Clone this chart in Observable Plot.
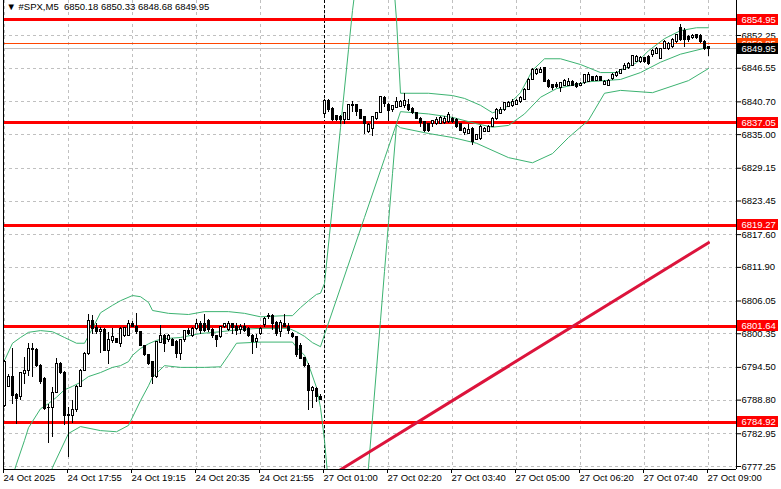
<!DOCTYPE html>
<html><head><meta charset="utf-8">
<script src="https://cdn.jsdelivr.net/npm/d3@7"></script>
<script src="https://cdn.jsdelivr.net/npm/@observablehq/plot@0.6"></script>
<style>
body{margin:0;background:#fff;}
svg text{font-family:"Liberation Sans",Arial,sans-serif;}
</style></head><body><div id="chart"></div>
<script>
// ---- OHLC candles (M5 bars, index 0..176) ----
const opens = [6787.7,6791.1,6792.9,6789.7,6789.3,6793.3,6793.9,6797.7,6797.5,6794.8,6792.5,6787.5,6787.4,6790.0,6795.1,6793.6,6786.2,6786.1,6787.0,6791.1,6793.9,6796.8,6802.6,6801.4,6800.6,6801.0,6797.4,6799.1,6799.5,6798.6,6799.9,6800.0,6802.1,6801.5,6800.6,6798.3,6796.7,6795.4,6792.9,6798.7,6799.9,6799.2,6799.2,6798.9,6796.8,6799.2,6800.8,6800.0,6801.2,6802.1,6802.0,6802.6,6801.0,6799.9,6799.7,6801.5,6801.0,6802.1,6801.6,6801.0,6801.5,6801.2,6800.0,6798.9,6800.3,6801.8,6803.2,6803.5,6802.2,6800.6,6802.1,6801.6,6800.3,6799.7,6798.3,6796.1,6794.8,6790.4,6790.8,6789.4,
6838.6,6840.9,6839.5,6838.2,6838.0,6837.5,6837.6,6839.9,6840.1,6839.2,6838.0,6835.4,6836.0,6837.7,6838.7,6841.4,6840.2,6839.2,6839.7,6839.8,6839.9,6840.1,6839.5,6838.7,6837.7,
6837.2,6836.8,6836.9,6836.8,6836.9,6837.0,6837.2,6837.8,6837.6,6836.9,6835.3,6835.1,6836.0,6834.0,6834.3,6835.4,6835.4,6836.3,6837.8,6838.6,6839.2,6839.8,6839.9,6840.1,6840.6,6841.1,6842.8,6844.5,6845.5,6845.7,
6846.6,6844.4,6843.7,6843.7,6843.1,6843.5,6843.5,6844.2,6843.8,6843.5,6844.0,6844.2,6845.0,6844.4,6845.0,6843.7,6843.5,6844.6,6845.2,6845.6,6846.3,6846.6,6847.0,6847.6,6847.6,6848.3,6848.5,6848.8,6849.1,6848.2,6849.9,6849.9,6850.2,6851.1,6853.5,6853.1,6852.0,6851.8,6852.3,6852.1,6851.1,6850.18];
const highs = [6795.7,6793.2,6797.7,6789.9,6793.6,6796.3,6798.6,6798.6,6797.7,6795.0,6792.8,6788.1,6791.0,6796.0,6795.4,6793.8,6787.5,6788.7,6791.3,6794.2,6797.1,6803.7,6803.5,6802.1,6801.4,6801.2,6800.6,6801.2,6799.6,6801.5,6801.3,6802.6,6802.4,6803.9,6800.6,6798.3,6796.8,6795.4,6798.9,6801.8,6800.3,6800.3,6799.5,6799.1,6799.3,6801.0,6801.2,6801.5,6802.9,6802.4,6803.7,6802.9,6801.2,6800.0,6801.6,6802.2,6802.4,6802.2,6802.1,6801.9,6802.1,6801.4,6800.3,6800.3,6801.4,6803.2,6803.9,6803.7,6802.4,6802.6,6803.7,6802.1,6800.6,6799.7,6798.6,6796.3,6795.1,6791.1,6791.0,6789.7,
6841.1,6841.1,6839.7,6838.3,6838.3,6838.9,6840.2,6840.7,6840.2,6839.3,6838.2,6836.9,6838.2,6838.9,6841.6,6841.6,6840.5,6840.0,6841.5,6840.9,6842.2,6841.1,6839.7,6838.9,6838.0,
6837.3,6837.0,6837.5,6838.0,6838.2,6838.2,6838.9,6838.0,6837.8,6837.0,6836.3,6836.8,6836.3,6835.1,6836.6,6836.3,6836.6,6838.0,6839.5,6839.8,6840.6,6840.8,6841.1,6841.2,6841.6,6843.0,6844.7,6846.5,6846.5,6846.7,
6846.7,6844.6,6843.8,6844.1,6844.1,6844.6,6844.7,6844.4,6844.0,6844.1,6845.4,6845.8,6845.2,6845.3,6845.2,6844.4,6844.6,6845.6,6846.0,6846.4,6847.3,6847.6,6848.8,6848.8,6848.6,6848.5,6848.8,6849.9,6850.2,6850.0,6851.4,6851.1,6851.7,6852.5,6854.1,6853.4,6852.3,6852.4,6852.5,6852.4,6851.4,6850.33];
const lows = [6787.5,6791.0,6788.1,6784.6,6788.7,6791.6,6792.9,6792.8,6794.5,6791.6,6787.0,6781.2,6782.3,6789.9,6793.3,6784.4,6778.8,6784.8,6786.7,6791.0,6793.8,6796.6,6800.3,6800.3,6796.9,6797.3,6795.0,6798.6,6798.6,6798.0,6799.7,6799.9,6801.4,6800.3,6798.1,6796.4,6794.8,6791.6,6792.5,6798.6,6797.1,6798.9,6798.1,6796.0,6795.7,6798.9,6800.0,6799.7,6800.9,6800.3,6800.6,6800.6,6799.5,6798.0,6799.6,6801.2,6800.8,6800.3,6800.0,6800.3,6800.6,6799.7,6796.8,6797.7,6800.0,6801.5,6802.9,6800.9,6799.9,6799.7,6801.5,6800.3,6799.5,6796.3,6795.8,6794.5,6787.0,6787.3,6788.4,6788.7,
6838.3,6838.9,6837.3,6837.2,6836.8,6836.8,6837.5,6838.9,6838.2,6837.6,6835.1,6835.2,6834.6,6837.5,6838.6,6839.8,6837.3,6838.9,6839.5,6839.7,6839.5,6839.1,6838.5,6837.6,6836.3,
6835.3,6835.4,6836.3,6836.6,6836.8,6836.8,6837.0,6836.9,6836.0,6835.6,6834.9,6835.0,6833.1,6833.9,6834.0,6835.3,6835.3,6836.2,6837.5,6838.5,6839.1,6839.7,6839.8,6840.0,6840.5,6840.9,6842.7,6844.4,6845.3,6845.6,
6844.1,6843.1,6842.7,6843.1,6842.4,6843.4,6843.4,6843.3,6843.1,6843.4,6843.8,6844.1,6844.2,6844.2,6844.2,6843.5,6843.4,6844.4,6845.0,6845.4,6846.2,6846.4,6846.9,6847.5,6847.4,6847.3,6847.1,6848.5,6848.9,6848.1,6849.8,6849.6,6850.0,6850.8,6851.2,6850.2,6851.1,6851.6,6851.6,6850.8,6849.6,6848.68];
const closes = [6795.4,6792.9,6789.6,6789.0,6793.5,6793.9,6797.7,6797.5,6794.7,6791.9,6787.3,6787.4,6790.0,6795.1,6793.5,6786.1,6786.1,6787.0,6791.1,6793.9,6796.8,6802.6,6801.2,6800.6,6801.0,6797.4,6799.2,6799.7,6798.7,6801.2,6801.3,6802.1,6801.5,6800.6,6798.3,6796.6,6795.1,6792.9,6798.9,6799.9,6798.6,6799.9,6798.3,6796.8,6799.2,6800.8,6800.3,6801.2,6802.0,6800.9,6800.9,6801.0,6799.9,6799.3,6801.5,6802.1,6802.0,6801.4,6800.9,6801.5,6800.9,6800.0,6798.9,6799.5,6801.2,6802.9,6803.5,6802.1,6800.3,6802.2,6801.6,6800.8,6799.7,6796.6,6796.0,6794.8,6790.4,6790.9,6789.3,6788.8,
6840.9,6839.2,6837.6,6837.5,6837.5,6838.7,6840.1,6840.1,6838.9,6837.7,6836.9,6836.6,6838.0,6838.7,6841.5,6840.4,6839.1,6839.9,6840.7,6840.7,6840.9,6839.3,6838.7,6837.7,6837.0,
6835.6,6835.7,6837.3,6837.6,6837.9,6837.8,6838.5,6837.2,6836.3,6835.7,6836.0,6835.8,6833.7,6834.9,6836.3,6836.0,6836.3,6837.8,6839.3,6839.3,6840.5,6840.5,6840.6,6840.9,6841.4,6842.8,6844.5,6846.2,6846.2,6846.3,
6844.2,6843.3,6843.1,6843.3,6844.0,6844.4,6844.2,6843.4,6843.3,6843.8,6845.3,6845.4,6844.4,6845.1,6844.4,6844.2,6844.4,6845.4,6845.8,6846.2,6847.0,6847.3,6848.7,6848.5,6848.3,6847.6,6847.3,6849.6,6849.9,6849.9,6851.1,6850.8,6851.4,6852.3,6851.4,6851.4,6851.4,6852.1,6851.8,6851.1,6849.9,6849.95];

// ---- Bollinger bands (bar index -> price) ----
const upperBars = [0,2,4,6,9,12,15,18,20,22,24,27,29,32,34,36,37,41,46,50,56,60,64,70,72,74,76,78,79,80,82,84,86,87,88,92,96,97,98,99,106,112,115,119,122,125,129,132,135,139,144,149,153,158,161,165,169,173,176];
const upperVals = [6795.7,6798.7,6799.7,6800.6,6800.9,6800.7,6799.7,6798.7,6798.7,6801.3,6804.0,6805.3,6806.1,6807.0,6806.8,6805.8,6804.4,6803.9,6803.7,6804.2,6804.2,6803.9,6803.3,6803.5,6803.5,6804.9,6806.1,6807.2,6807.4,6809.1,6822.7,6836.2,6849.8,6856.6,6862,6868,6866,6864,6855,6842.2,6842.2,6841.8,6841.3,6840.1,6838.8,6839.5,6842.3,6846.2,6848.2,6848.2,6847.2,6845.8,6845.8,6847.5,6849.6,6851.7,6853.1,6853.6,6853.6];
const middleBars = [0,3,5,6,9,11,13,15,17,19,21,24,27,29,31,32,34,36,38,40,44,49,54,59,64,71,73,75,77,79,80,85,90,95,98,99,106,112,118,122,126,130,134,138,146,154,159,164,169,176];
const middleVals = [6771,6777.7,6781.8,6784,6787.3,6788.2,6789.3,6790.6,6791.2,6791.9,6792.9,6793.6,6794.5,6794.8,6795.5,6796.6,6797.8,6798.6,6799.2,6799.5,6799.7,6800.4,6800.7,6801.1,6801.3,6801.3,6800.7,6799.9,6798.8,6798.1,6800.2,6810.4,6820.6,6830.8,6836.9,6839.0,6838.6,6838.0,6836.9,6836.3,6836.6,6838.6,6841.5,6843.0,6844.2,6844.6,6845.8,6847.6,6849.0,6850.2];
const lowerBars = [0,6,10,12,16,19,24,28,31,34,36,37,40,44,50,54,56,58,64,72,73,75,76,78,79,80,81,83,86,88,90,91,92,93,94,95,96,97,98,99,106,112,118,126,132,137,141,146,150,154,162,171,176];
const lowerVals = [6746,6765,6772,6777.1,6783.0,6784.2,6783.5,6783.3,6784.4,6788.7,6791.3,6792.8,6794.8,6794.5,6794.5,6794.6,6796.6,6798.7,6798.9,6798.9,6798.0,6796.6,6795.0,6791.0,6787.5,6781.8,6774,6768,6764,6764,6770,6777.2,6785.7,6794.2,6802.7,6811.2,6819.7,6828.2,6836.7,6836.2,6835.2,6834.5,6833.5,6831.0,6830.1,6831.7,6834.5,6837.5,6842.2,6842.7,6842.3,6844.4,6846.5];

// ---- levels, trend line, axes ----
const redLevels = [6854.95, 6837.05, 6819.27, 6801.64, 6784.92];
const askLevel = 6850.85;
const bidLevel = 6849.95;
const trendBars = [84, 176];
const trendVals = [6776.7, 6816.2];
const separatorBar = 80;
const yTicks = [6852.25, 6846.55, 6840.70, 6835.00, 6829.15, 6823.45, 6817.60, 6811.90, 6806.05, 6800.35, 6794.50, 6788.80, 6782.95, 6777.25];
const xTickBars = [0,16,32,48,64,80,96,112,128,144,160,176];
const xTickLabels = ["24 Oct 2025","24 Oct 17:55","24 Oct 19:15","24 Oct 20:35","24 Oct 21:55","27 Oct 01:00","27 Oct 02:20","27 Oct 03:40","27 Oct 05:00","27 Oct 06:20","27 Oct 07:40","27 Oct 09:00"];
const titleText = "\u25BC #SPX,M5\u00a0\u00a06850.18 6850.33 6848.68 6849.95";
const xDomain = [-0.25, 183];
const yDomain = [6776.73, 6858.34];

const candles = opens.map((o, i) => ({i, o, h: highs[i], l: lows[i], c: closes[i]}));
const band = (bars, vals) => bars.map((b, k) => ({b, v: vals[k]}));
const trend = band(trendBars, trendVals);
const levelLabels = [
  ...redLevels.map(v => ({v, bg: "#ff0000"})),
  {v: askLevel, bg: "#ff4500"},
  {v: bidLevel, bg: "#000000"}
];
const FS = 9.5;
const green = "#3cb371";

const chart = Plot.plot({
  width: 781, height: 489,
  marginLeft: 3, marginRight: 45, marginTop: 0, marginBottom: 20,
  style: {background: "white", color: "black", fontFamily: "Liberation Sans, Arial, sans-serif"},
  x: {domain: xDomain},
  y: {domain: yDomain},
  marks: [
    Plot.ruleY(yTicks, {stroke: "#c0c0c0", strokeDasharray: "3,3", shapeRendering: "crispEdges"}),
    Plot.ruleX(xTickBars, {stroke: "#c0c0c0", strokeDasharray: "3,3", shapeRendering: "crispEdges"}),
    Plot.ruleX([separatorBar], {stroke: "black", strokeDasharray: "3,2", shapeRendering: "crispEdges"}),
    Plot.ruleY([bidLevel], {stroke: "#c0c0c0", shapeRendering: "crispEdges"}),
    Plot.ruleY([askLevel], {stroke: "#ff4500", shapeRendering: "crispEdges"}),
    Plot.ruleY(redLevels, {stroke: "#ff0000", strokeWidth: 3, shapeRendering: "crispEdges"}),
    Plot.line(band(upperBars, upperVals), {x: "b", y: "v", stroke: green, strokeWidth: 1, clip: true}),
    Plot.line(band(middleBars, middleVals), {x: "b", y: "v", stroke: green, strokeWidth: 1, clip: true}),
    Plot.line(band(lowerBars, lowerVals), {x: "b", y: "v", stroke: green, strokeWidth: 1, clip: true}),
    Plot.line(trend, {x: "b", y: "v", stroke: "#dc143c", strokeWidth: 3, clip: true}),
    Plot.ruleX(candles, {x: "i", y1: "l", y2: "h", stroke: "black", shapeRendering: "crispEdges"}),
    Plot.rect(candles, {
      x1: d => d.i - 0.25, x2: d => d.i + 0.25,
      y1: d => Math.min(d.o, d.c), y2: d => Math.max(d.o, d.c),
      fill: d => d.c >= d.o ? "white" : "black",
      stroke: "black", strokeWidth: 1, shapeRendering: "crispEdges"
    }),
    Plot.ruleX([xDomain[0], xDomain[1]], {stroke: "black", shapeRendering: "crispEdges"}),
    Plot.ruleY([yDomain[0]], {stroke: "black", shapeRendering: "crispEdges"}),
    Plot.axisY(yTicks, {anchor: "right", tickSize: 4, tickPadding: 1, fontSize: FS, label: null,
      tickFormat: d => d.toFixed(2)}),
    Plot.axisX(xTickBars, {anchor: "bottom", tickSize: 4, tickPadding: 1, fontSize: FS, label: null,
      textAnchor: "start", dx: -1, tickFormat: d => xTickLabels[xTickBars.indexOf(d)]}),
    Plot.text([titleText], {text: d => d, frameAnchor: "top-left", dx: 3, dy: 3, lineAnchor: "top",
      textAnchor: "start", fill: "black", fontSize: FS}),
    // one text mark per price label so each coloured box can sit directly beneath its own text
    ...levelLabels.map(lab => Plot.text([lab], {y: "v", text: d => d.v.toFixed(2), frameAnchor: "right", dx: 5,
      textAnchor: "start", fill: "white", fontSize: FS}))
  ]
});

// coloured price boxes behind the level labels
const yS = chart.scale("y");
const xS = chart.scale("x");
const labelGroups = Array.from(chart.querySelectorAll('g[fill="white"]'));
labelGroups.forEach((g, k) => {
  const lab = levelLabels[k];
  if (!lab) return;
  const r = document.createElementNS("http://www.w3.org/2000/svg", "rect");
  const yy = yS.apply(lab.v);
  r.setAttribute("x", xS.range[1] + 1);
  r.setAttribute("y", Math.round(yy - 5.5));
  r.setAttribute("width", 41);
  r.setAttribute("height", 11);
  r.setAttribute("fill", lab.bg);
  g.parentNode.insertBefore(r, g);
});
document.getElementById("chart").appendChild(chart);
</script>
</body></html>
